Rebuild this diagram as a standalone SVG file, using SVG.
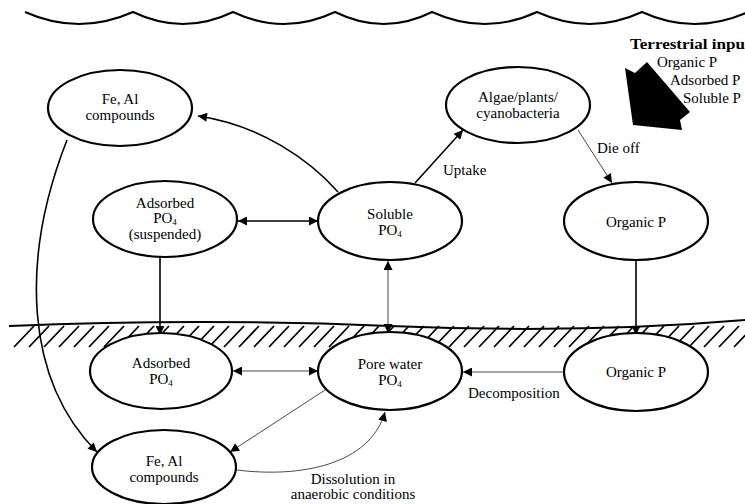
<svg xmlns="http://www.w3.org/2000/svg" width="745" height="504" viewBox="0 0 745 504">
<defs>
<style>
.node ellipse{fill:#fff;stroke:#000;stroke-width:2.2}
text{font-family:"Liberation Serif","Times New Roman",serif;font-size:15px;fill:#000}
.c{text-anchor:middle}
.sub{font-size:9px}
.thick{fill:none;stroke:#000;stroke-width:1.6}
.thin{fill:none;stroke:#333;stroke-width:0.9}
</style>
<marker id="ah" viewBox="0 0 10 10" refX="10" refY="5" markerWidth="11" markerHeight="9" markerUnits="userSpaceOnUse" orient="auto-start-reverse"><path d="M0,0 L10,5 L0,10 z" fill="#000"/></marker>
</defs>
<rect width="745" height="504" fill="#fff"/>
<!-- water surface -->
<path d="M25,12 Q79,36 133,12 Q183,36 233,12 Q284,36 335,12 Q384,36 432,12 Q485,36 537,12 Q590,36 642,12 Q694,36 748,12" fill="none" stroke="#000" stroke-width="2"/>
<!-- sediment -->
<g id="sediment">
<path d="M9,326 Q200,318 390,326 T745,320" fill="none" stroke="#000" stroke-width="2"/>
<path d="M14,347 l20,-21 M29,347 l20,-21 M44,347 l20,-21 M59,347 l20,-21 M74,347 l20,-21 M89,347 l20,-21 M104,347 l20,-21 M119,347 l20,-21 M134,347 l20,-21 M149,347 l20,-21 M164,347 l20,-21 M179,347 l20,-21 M194,347 l20,-21 M209,347 l20,-21 M224,347 l20,-21 M239,347 l20,-21 M254,347 l20,-21 M269,347 l20,-21 M284,347 l20,-21 M299,347 l20,-21 M314,347 l20,-21 M329,347 l20,-21 M344,347 l20,-21 M359,347 l20,-21 M374,347 l20,-21 M389,347 l20,-21 M404,347 l20,-21 M419,347 l20,-21 M434,347 l20,-21 M449,347 l20,-21 M464,347 l20,-21 M479,347 l20,-21 M494,347 l20,-21 M509,347 l20,-21 M524,347 l20,-21 M539,347 l20,-21 M554,347 l20,-21 M569,347 l20,-21 M584,347 l20,-21 M599,347 l20,-21 M614,347 l20,-21 M629,347 l20,-21 M644,347 l20,-21 M659,347 l20,-21 M674,347 l20,-21 M689,347 l20,-21 M704,347 l20,-21 M719,347 l20,-21 M734,347 l20,-21" fill="none" stroke="#000" stroke-width="1.8"/>
</g>
<!-- terrestrial input -->
<g id="terrestrial">
<text x="630" y="49" font-weight="bold" textLength="115" lengthAdjust="spacingAndGlyphs">Terrestrial inpu</text>
<text x="657" y="67" font-size="14">Organic P</text>
<text x="670" y="85" font-size="14">Adsorbed P</text>
<text x="683" y="103" font-size="14">Soluble P</text>
<path d="M625,68 L635,73 L647,62 L690,112 L680,120 L682,130 L633,125 Z" fill="#000"/>
</g>
<!-- connectors -->
<g id="connectors">
<path class="thick" d="M338,192 C310,160 260,125 198,116" marker-end="url(#ah)"/>
<path class="thick" d="M415,183 L463,130" marker-end="url(#ah)"/>
<path class="thin" d="M578,130 L612,183" marker-end="url(#ah)"/>
<path class="thick" d="M238,221 L318,221" marker-start="url(#ah)" marker-end="url(#ah)"/>
<path class="thick" d="M160,257 L160,335" marker-end="url(#ah)"/>
<path class="thick" d="M636,260 L636,335" marker-end="url(#ah)"/>
<path class="thin" d="M388,261 L388,333" marker-start="url(#ah)" marker-end="url(#ah)"/>
<path class="thin" d="M233,371 L318,371" marker-start="url(#ah)" marker-end="url(#ah)"/>
<path class="thin" d="M564,372 L463,372" marker-end="url(#ah)"/>
<path class="thin" d="M325,390 L230,452" marker-end="url(#ah)"/>
<path class="thin" d="M237,470 C300,478 370,465 385,412" marker-end="url(#ah)"/>
<path class="thick" d="M67,140 C20,260 25,380 97,452" marker-end="url(#ah)"/>
</g>
<!-- labels -->
<text x="443" y="175">Uptake</text>
<text x="597" y="153">Die off</text>
<text x="468" y="398">Decomposition</text>
<text class="c" x="353" y="484">Dissolution in</text>
<text class="c" x="353" y="499">anaerobic conditions</text>
<!-- nodes -->
<g id="fe-al-water" class="node"><ellipse cx="120" cy="108" rx="72" ry="38"/><text class="c" x="120" y="104">Fe, Al</text><text class="c" x="120" y="120">compounds</text></g>
<g id="algae" class="node"><ellipse cx="518" cy="105" rx="72" ry="38"/><text class="c" x="518" y="102">Algae/plants/</text><text class="c" x="518" y="118">cyanobacteria</text></g>
<g id="adsorbed-suspended" class="node"><ellipse cx="165" cy="219" rx="72" ry="38"/><text class="c" x="165" y="208">Adsorbed</text><text class="c" x="165" y="223">PO<tspan class="sub" dy="2">4</tspan></text><text class="c" x="165" y="239">(suspended)</text></g>
<g id="soluble" class="node"><ellipse cx="390" cy="221" rx="72" ry="39"/><text class="c" x="390" y="219">Soluble</text><text class="c" x="390" y="235">PO<tspan class="sub" dy="2">4</tspan></text></g>
<g id="organic-water" class="node"><ellipse cx="636" cy="221" rx="72" ry="39"/><text class="c" x="636" y="227">Organic P</text></g>
<g id="adsorbed-sediment" class="node"><ellipse cx="161" cy="371" rx="71" ry="38"/><text class="c" x="161" y="368">Adsorbed</text><text class="c" x="161" y="384">PO<tspan class="sub" dy="2">4</tspan></text></g>
<g id="pore-water" class="node"><ellipse cx="390" cy="371" rx="72" ry="39"/><text class="c" x="390" y="369">Pore water</text><text class="c" x="390" y="385">PO<tspan class="sub" dy="2">4</tspan></text></g>
<g id="organic-sediment" class="node"><ellipse cx="636" cy="372" rx="72" ry="39"/><text class="c" x="636" y="377">Organic P</text></g>
<g id="fe-al-sediment" class="node"><ellipse cx="164" cy="467" rx="72" ry="37"/><text class="c" x="164" y="466">Fe, Al</text><text class="c" x="164" y="482">compounds</text></g>
</svg>
